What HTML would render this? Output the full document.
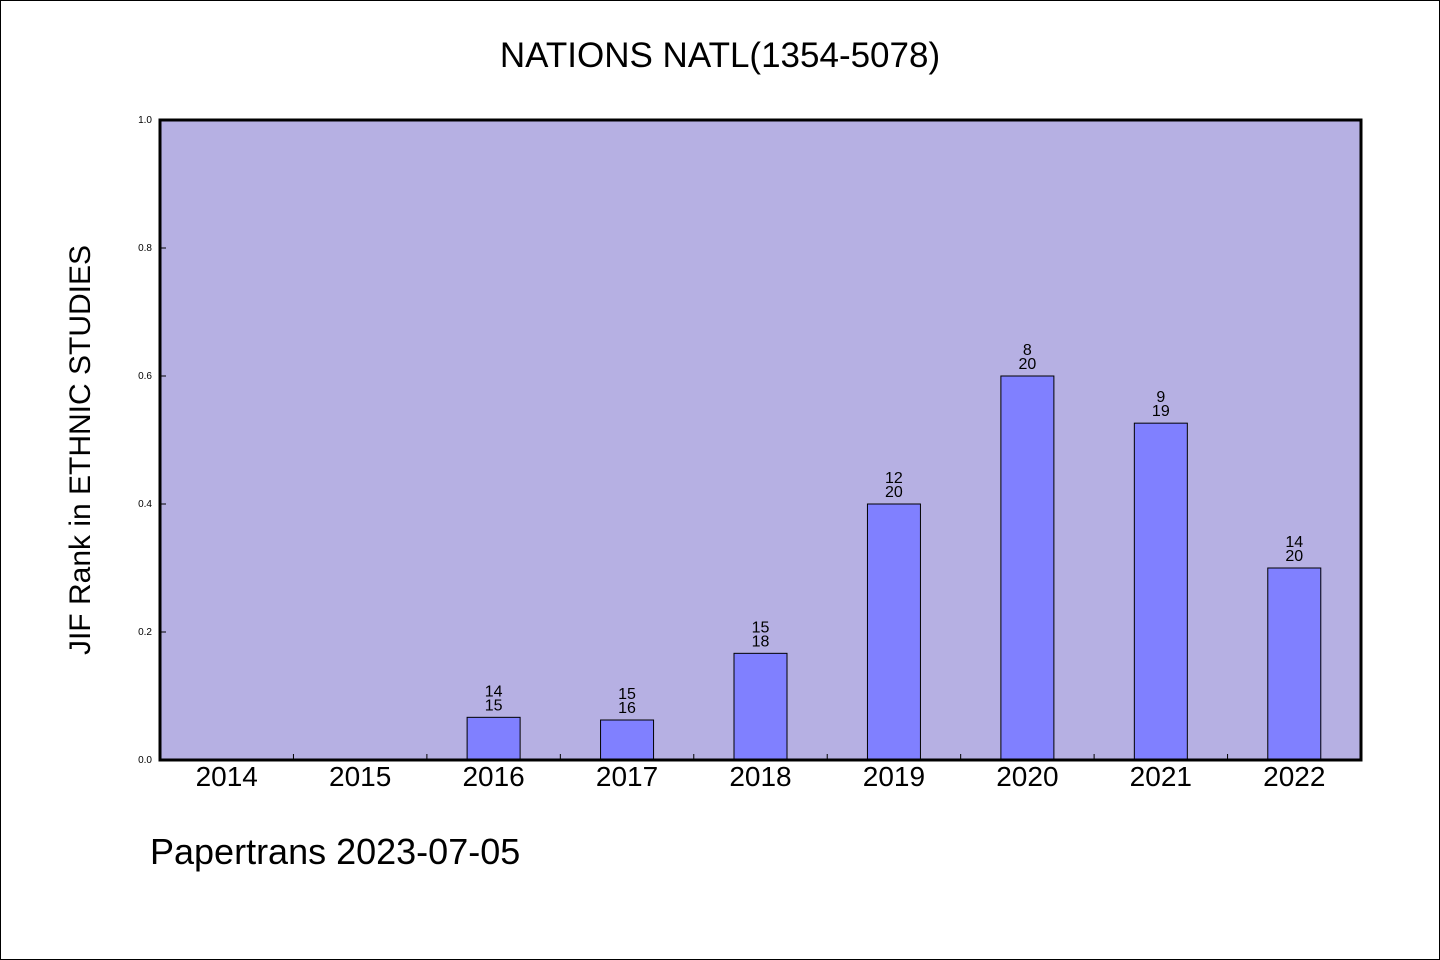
<!DOCTYPE html>
<html><head><meta charset="utf-8"><style>
html,body{margin:0;padding:0;background:#fff}
svg{display:block}
text{font-family:"WenQuanYi Zen Hei","Liberation Sans",sans-serif;fill:#000}
</style></head><body>
<svg id="chart" width="1440" height="960">
<rect x="0.5" y="0.5" width="1439" height="959" fill="#fff" stroke="#000"/>
<text x="720" y="67" font-size="35" text-anchor="middle">NATIONS NATL(1354-5078)</text>
<rect x="160" y="120" width="1201" height="640" fill="#b6b0e3"/>
<g id="bars"></g>
<g id="axes"></g>
<rect x="160" y="120" width="1201" height="640" fill="none" stroke="#000" stroke-width="3"/>
<text transform="translate(90,450) rotate(-90)" font-size="30" text-anchor="middle">JIF Rank in ETHNIC STUDIES</text>
<text x="150" y="864" font-size="36">Papertrans 2023-07-05</text>
</svg>
<script>
const categories=["2014","2015","2016","2017","2018","2019","2020","2021","2022"];
const ranks=[null,null,14,15,15,12,8,9,14];
const totals=[null,null,15,16,18,20,20,19,20];
const yTicks=[0,0.2,0.4,0.6,0.8,1.0];
const NS="http://www.w3.org/2000/svg";
const X0=160,X1=1361,Y0=760,Y1=120;
const bw=(X1-X0)/categories.length;
function xc(i){return X0+bw*(i+0.5);}
function y(v){return Y0-(Y0-Y1)*v;}
function mk(tag,attrs,parent,txt){const e=document.createElementNS(NS,tag);for(const k in attrs)e.setAttribute(k,attrs[k]);if(txt!=null)e.textContent=txt;parent.appendChild(e);return e;}
const bars=document.getElementById('bars'),axes=document.getElementById('axes');
categories.forEach((c,i)=>{
  const t=mk('text',{x:xc(i),y:786,'font-size':28,'text-anchor':'middle'},axes,c);
  
  
  if(i>0){const tk=mk('line',{x1:X0+bw*i,x2:X0+bw*i,y1:760,y2:754,stroke:'#000','stroke-width':1},axes);
    
    }
  if(ranks[i]==null)return;
  const v=(totals[i]-ranks[i])/totals[i];
  const r=mk('rect',{x:xc(i)-26.5,y:y(v),width:53,height:Y0-y(v),fill:'#8080ff',stroke:'#000','stroke-width':1},bars);
  
  
  const l1=mk('text',{x:xc(i),y:y(v)-21,'font-size':16,'text-anchor':'middle'},bars,String(ranks[i]));
  
  
  const l2=mk('text',{x:xc(i),y:y(v)-7,'font-size':16,'text-anchor':'middle'},bars,String(totals[i]));
  
  
});
yTicks.forEach(v=>{
  const t=mk('text',{x:152,y:y(v)+3,'font-size':10,'text-anchor':'end'},axes,v.toFixed(1));
  
  
  const tk=mk('line',{x1:160,x2:166,y1:y(v),y2:y(v),stroke:'#000','stroke-width':1},axes);
  
  
});
</script>
</body></html>
